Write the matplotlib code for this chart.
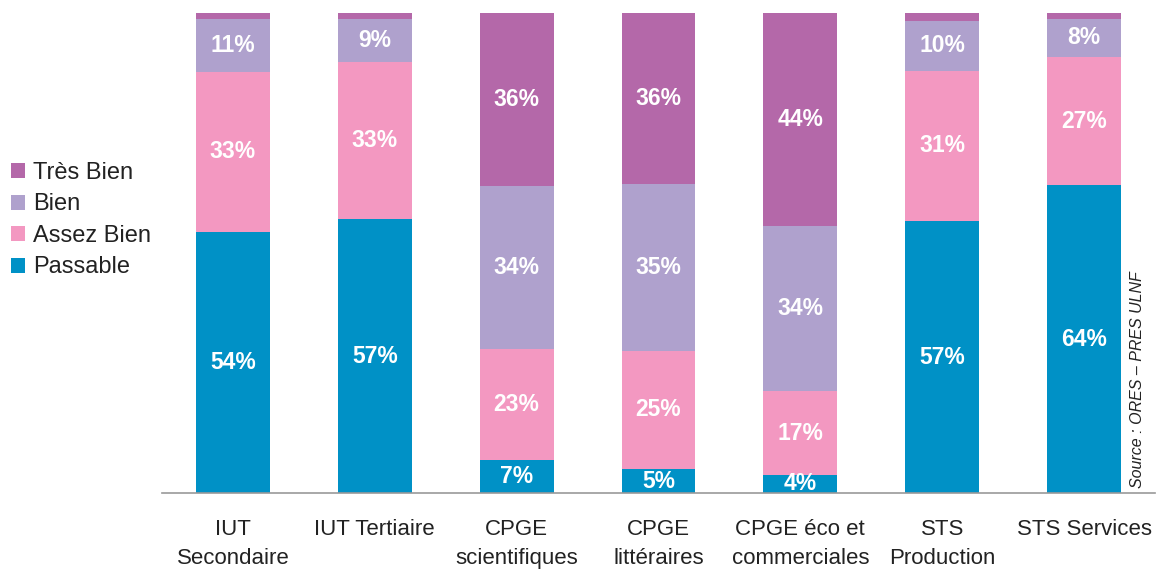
import matplotlib.pyplot as plt
import numpy as np

plt.rcParams["font.family"] = ["Liberation Sans", "DejaVu Sans"]

categories = ["IUT\nSecondaire", "IUT Tertiaire", "CPGE\nscientifiques", "CPGE\nlittéraires",
              "CPGE éco et\ncommerciales", "STS\nProduction", "STS Services"]
passable = [54.4, 57.0, 6.9, 5.0, 3.8, 56.6, 64.1]
assez_bien = [33.4, 32.8, 23.1, 24.6, 17.4, 31.4, 26.7]
bien = [10.9, 9.0, 34.0, 34.8, 34.4, 10.3, 8.0]
tres_bien = [1.3, 1.2, 36.0, 35.6, 44.4, 1.7, 1.2]

series = [("Passable", passable, "#0091c6"),
          ("Assez Bien", assez_bien, "#f398c1"),
          ("Bien", bien, "#afa1cd"),
          ("Très Bien", tres_bien, "#b468a9")]

fig = plt.figure(figsize=(11.58, 5.72), dpi=100)
ax = fig.add_axes([162 / 1158, 1 - 493 / 572, (1155 - 162) / 1158, 480 / 572])

x = np.arange(len(categories))
bottom = np.zeros(len(categories))
handles = []
for name, vals, color in series:
    vals = np.array(vals)
    bars = ax.bar(x, vals, width=0.52, bottom=bottom, color=color, label=name)
    handles.append(bars)
    for xi, b, v in zip(x, bottom, vals):
        if v >= 3:
            ax.text(xi, b + v / 2, f"{v:.0f}%", ha="center", va="center",
                    color="white", fontsize=16.5, fontweight="bold")
    bottom += vals

ax.set_xlim(-0.5, len(categories) - 0.5)
ax.set_ylim(0, 100)
ax.set_xticks(x)
ax.set_xticklabels(categories, fontsize=16, color="#222222", linespacing=1.5)
ax.tick_params(axis="x", length=0, pad=19)
ax.set_yticks([])
for s in ["top", "left", "right"]:
    ax.spines[s].set_visible(False)
ax.spines["bottom"].set_color("#999999")
ax.spines["bottom"].set_linewidth(1.2)

fig.legend(handles[::-1], [s[0] for s in series][::-1], loc="upper left",
           bbox_to_anchor=(11 / 1158, 1 - 162 / 572), frameon=False, fontsize=17,
           borderpad=0, borderaxespad=0,
           handlelength=0.6, handleheight=0.6, handletextpad=0.35,
           labelspacing=0.4, labelcolor="#222222")

fig.text(1138 / 1158, 1 - 380 / 572, "Source : ORES – PRES ULNF", rotation=90,
         ha="center", va="center", fontsize=11.5, style="italic", color="#222222")

fig.savefig("out.png", dpi=100)
